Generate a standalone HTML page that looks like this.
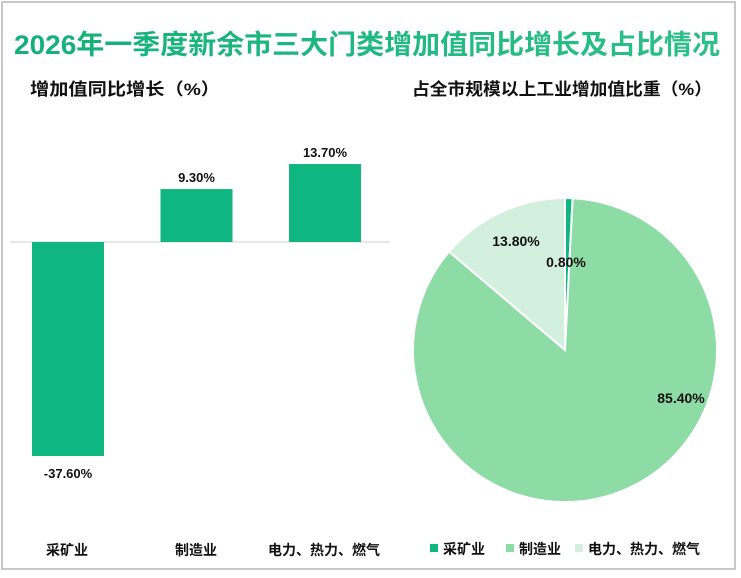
<!DOCTYPE html>
<html><head><meta charset="utf-8"><style>
body{margin:0;width:741px;height:578px;background:#fff;font-family:"Liberation Sans","Noto Sans CJK SC",sans-serif;overflow:hidden}
#frame{position:absolute;left:1px;top:1px;width:731px;height:565px;border:2px solid #c8c8c8;background:#fff}
</style></head><body>
<div id="frame"></div>
<svg width="741" height="578" style="position:absolute;left:0;top:0" font-family="Liberation Sans,Noto Sans CJK SC,sans-serif">
<defs><linearGradient id="tg" x1="0" x2="1"><stop offset="0" stop-color="#13b07a"/><stop offset="1" stop-color="#2cc08a"/></linearGradient></defs>
<text x="14" y="54" textLength="706" lengthAdjust="spacingAndGlyphs" font-size="27" font-weight="bold" fill="url(#tg)">2026年一季度新余市三大门类增加值同比增长及占比情况</text>
<text x="30" y="95" textLength="190" lengthAdjust="spacingAndGlyphs" font-size="17" font-weight="bold" fill="#111">增加值同比增长（%）</text>
<text x="412" y="95" textLength="300" lengthAdjust="spacingAndGlyphs" font-size="17" font-weight="bold" fill="#111">占全市规模以上工业增加值比重（%）</text>
<line x1="10" y1="242" x2="390" y2="242" stroke="#d0d0d0" stroke-width="1"/>
<g id="bars"></g><g id="pie"></g><g id="legend"></g>
</svg>
<script>
const categories=["采矿业","制造业","电力、热力、燃气"];
const growth=[-37.6,9.3,13.7];
const growthLabels=["-37.60%","9.30%","13.70%"];
const share=[0.8,85.4,13.8];
const shareLabels=["0.80%","85.40%","13.80%"];
const pieColors=["#10b67f","#8ddca6","#d3f0de"];
const NS="http://www.w3.org/2000/svg";
function mk(t,a,p){const e=document.createElementNS(NS,t);for(const k in a)e.setAttribute(k,a[k]);p.appendChild(e);return e;}
const zeroY=242,scale=214/37.6;
function y(v){return zeroY-v*scale;}
function xc(i){return 68+i*128.5;}
const catX=[67,196,324];
const bars=document.getElementById('bars');
growth.forEach((v,i)=>{
 const r=mk('rect',{x:xc(i)-36,y:Math.min(y(v),zeroY),width:72,height:Math.abs(y(v)-zeroY),fill:"#10b67f"},bars);
 
 
 const t=mk('text',{x:xc(i),y:v<0?y(v)+22:y(v)-7,'text-anchor':'middle','font-size':13,'font-weight':'bold',fill:'#111'},bars);
 t.textContent=growthLabels[i];
 
 
 const c=mk('text',{x:catX[i],y:555,'text-anchor':'middle','font-size':14,'font-weight':'bold',fill:'#111'},bars);
 c.textContent=categories[i];
 
 
});
const pie=document.getElementById('pie');
const cx=565,cy=350,R=152;
let acc=0;const tot=share.reduce((a,b)=>a+b,0);
const lp=[[566,267],[681,403],[516,246]];
share.forEach((v,i)=>{
 const a0=acc/tot*2*Math.PI-Math.PI/2;acc+=v;const a1=acc/tot*2*Math.PI-Math.PI/2;
 const large=(a1-a0)>Math.PI?1:0;
 const p=mk('path',{d:`M${cx},${cy}L${cx+R*Math.cos(a0)},${cy+R*Math.sin(a0)}A${R},${R} 0 ${large} 1 ${cx+R*Math.cos(a1)},${cy+R*Math.sin(a1)}Z`,fill:pieColors[i],stroke:'#fff','stroke-width':2},pie);
 
 
});
share.forEach((v,i)=>{
 const t=mk('text',{x:lp[i][0],y:lp[i][1],'text-anchor':'middle','font-size':14,'font-weight':'bold',fill:'#111'},pie);
 t.textContent=shareLabels[i];
 
 
});
const lg=document.getElementById('legend');
const lx=[430,506,575];
categories.forEach((c,i)=>{
 const g=mk('g',{},lg);
 
 
 mk('rect',{x:lx[i],y:544,width:8,height:8,fill:pieColors[i]},g);
 const t=mk('text',{x:lx[i]+13,y:554,'font-size':14,'font-weight':'bold',fill:'#111'},g);t.textContent=c;
});
</script>
</body></html>
